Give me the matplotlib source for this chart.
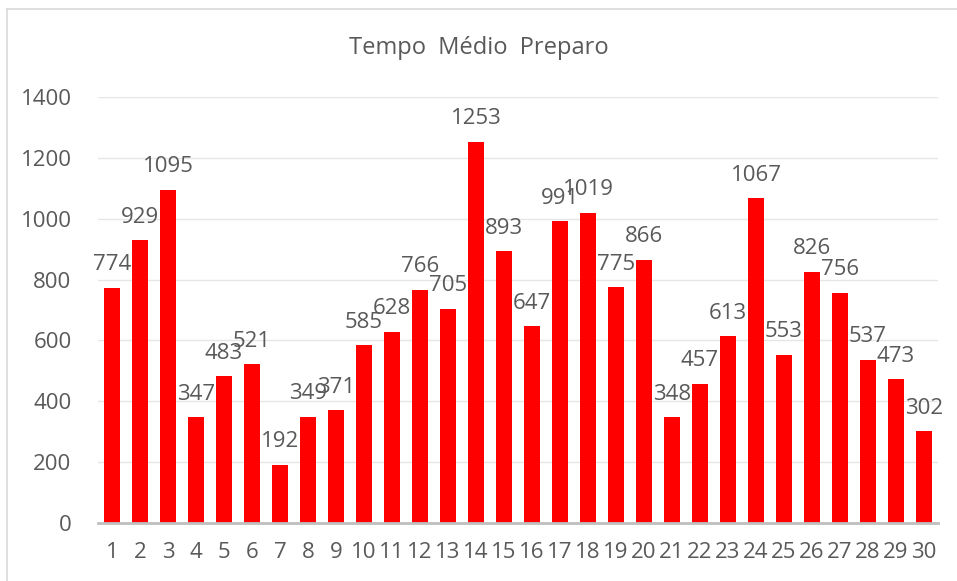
import matplotlib
matplotlib.use("Agg")
from matplotlib import pyplot as plt
from matplotlib.lines import Line2D

plt.rcParams['font.family'] = ['Open Sans', 'DejaVu Sans']

categories = [str(i) for i in range(1, 31)]
values = [774, 929, 1095, 347, 483, 521, 192, 349, 371, 585,
          628, 766, 705, 1253, 893, 647, 991, 1019, 775, 866,
          348, 457, 613, 1067, 553, 826, 756, 537, 473, 302]
yticks = [0, 200, 400, 600, 800, 1000, 1200, 1400]

txt = '#595959'

fig = plt.figure(figsize=(9.57, 5.81), dpi=100)
# chart frame (only top and left edges are visible in the crop)
fig.lines.append(Line2D([0.0073, 1.0], [0.985, 0.985], transform=fig.transFigure,
                        color='#d9d9d9', lw=1.2))
fig.lines.append(Line2D([0.0073, 0.0073], [0.0, 0.985], transform=fig.transFigure,
                        color='#d9d9d9', lw=1.2))

ax = fig.add_axes([0.1024, 0.0998, 0.8777, 0.7332])

x = list(range(1, 31))
bars = ax.bar(x, values, width=0.57, color='#ff0000', zorder=3)
ax.bar_label(bars, labels=[str(v) for v in values], padding=9,
             fontsize=16, color=txt)

ax.set_xlim(0.5, 30.5)
ax.set_ylim(0, 1400)
ax.set_yticks(yticks)
ax.set_xticks(x)
ax.set_xticklabels(categories)
ax.tick_params(axis='both', length=0, labelsize=16, colors=txt)
ax.tick_params(axis='y', pad=19)
ax.tick_params(axis='x', pad=14)
ax.grid(axis='y', color='#e6e6e6', lw=1.0, zorder=0)
for s in ['top', 'right', 'left']:
    ax.spines[s].set_visible(False)
ax.spines['bottom'].set_color('#bfbfbf')
ax.spines['bottom'].set_linewidth(2)
ax.spines['bottom'].set_zorder(4)

fig.text(0.5, 0.917, 'Tempo  Médio  Preparo', ha='center', va='center',
         fontsize=17, color=txt)

fig.savefig('out.png', dpi=100)
